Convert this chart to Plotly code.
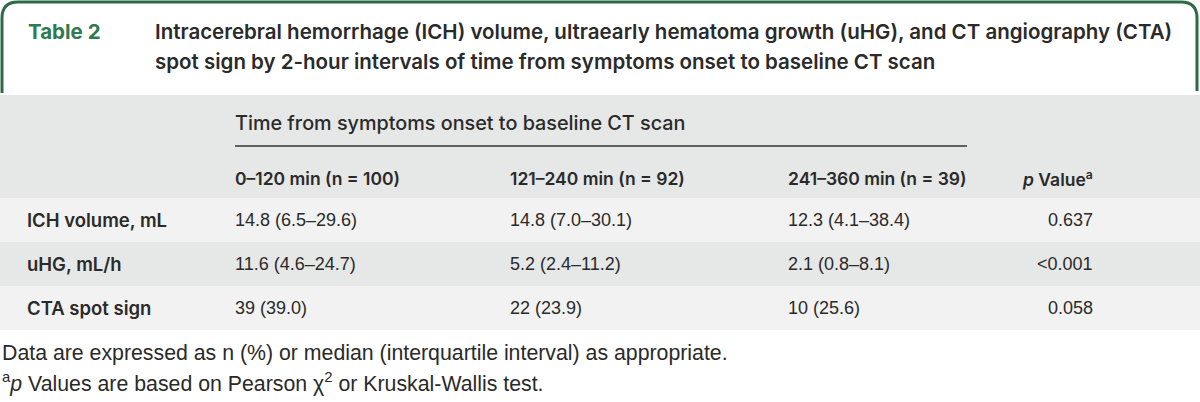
import plotly.graph_objects as go

# ---------------- data ----------------
table_label = "Table 2"
title_lines = [
    "Intracerebral hemorrhage (ICH) volume, ultraearly hematoma growth (uHG), and CT angiography (CTA)",
    "spot sign by 2-hour intervals of time from symptoms onset to baseline CT scan",
]
spanner = "Time from symptoms onset to baseline CT scan"
col_headers = ["0–120 min (n = 100)", "121–240 min (n = 92)", "241–360 min (n = 39)"]
p_header = "<i>p</i> Value<sup>a</sup>"
row_labels = ["ICH volume, mL", "uHG, mL/h", "CTA spot sign"]
g_0_120 = ["14.8 (6.5–29.6)", "11.6 (4.6–24.7)", "39 (39.0)"]
g_121_240 = ["14.8 (7.0–30.1)", "5.2 (2.4–11.2)", "22 (23.9)"]
g_241_360 = ["12.3 (4.1–38.4)", "2.1 (0.8–8.1)", "10 (25.6)"]
p_values = ["0.637", "&lt;0.001", "0.058"]
footnotes = [
    "Data are expressed as n (%) or median (interquartile interval) as appropriate.",
    "<sup>a</sup><i>p</i> Values are based on Pearson χ<sup>2</sup> or Kruskal-Wallis test.",
]

# ---------------- layout constants ----------------
W, H = 1200, 402
GREEN_BORDER = "#2d6a47"
GREEN_TEXT = "#2f7a50"
TEXT = "#2a2a2a"
GRAY_DARK = "#e6e7e7"
GRAY_LIGHT = "#f2f2f2"

BOLD_FONT = "Inter"
BODY_FONT = "Liberation Sans"

col_x = [27, 235, 510, 788]     # left edges of text columns
p_right = 1093
head_top, head_bot = 95, 198
row_h = 44
row_fill = [GRAY_LIGHT, GRAY_DARK, GRAY_LIGHT]

fig = go.Figure()
shapes = []
ann = []

# header box with rounded top corners
r = 16
path = (f"M 2,93 L 2,{2 + r} Q 2,2 {2 + r},2 L {1197 - r},2 Q 1197,2 1197,{2 + r} L 1197,91")
shapes.append(dict(type="path", path=path, xref="x", yref="y",
                   line=dict(color=GREEN_BORDER, width=3), fillcolor="rgba(0,0,0,0)"))

ann.append(dict(x=26, y=31, text=table_label, xanchor="left", yanchor="middle",
                font=dict(family=BOLD_FONT, size=20.5, color=GREEN_TEXT, weight=700)))
for i, line in enumerate(title_lines):
    ann.append(dict(x=153, y=31 + 30 * i, text=line, xanchor="left", yanchor="middle",
                    font=dict(family=BOLD_FONT, size=20.5, color=TEXT, weight=600)))

# header band
shapes.append(dict(type="rect", x0=0, x1=W, y0=head_top, y1=head_bot, xref="x", yref="y",
                   fillcolor=GRAY_DARK, line=dict(width=0), layer="below"))
# row bands
for i in range(len(row_labels)):
    y0 = head_bot + i * row_h
    shapes.append(dict(type="rect", x0=0, x1=W, y0=y0, y1=y0 + row_h, xref="x", yref="y",
                       fillcolor=row_fill[i], line=dict(width=0), layer="below"))

# spanner
ann.append(dict(x=col_x[1] - 2, y=123, text=spanner, xanchor="left", yanchor="middle",
                font=dict(family=BOLD_FONT, size=19.8, color=TEXT, weight=500)))
shapes.append(dict(type="line", x0=col_x[1], x1=967, y0=146, y1=146, xref="x", yref="y",
                   line=dict(color="#333333", width=1.5)))

# column headers
for j, h in enumerate(col_headers):
    ann.append(dict(x=col_x[j + 1] - 2, y=178, text=h, xanchor="left", yanchor="middle",
                    font=dict(family=BOLD_FONT, size=17.5, color=TEXT, weight=600)))
ann.append(dict(x=p_right + 2, y=178, text=p_header, xanchor="right", yanchor="middle",
                font=dict(family=BOLD_FONT, size=17.5, color=TEXT, weight=600)))

# body
cols = [g_0_120, g_121_240, g_241_360]
for i, lab in enumerate(row_labels):
    yc = head_bot + i * row_h + row_h / 2
    ann.append(dict(x=col_x[0] - 2, y=yc, text=lab, xanchor="left", yanchor="middle",
                    font=dict(family=BOLD_FONT, size=18.5, color=TEXT, weight=600)))
    for j, c in enumerate(cols):
        ann.append(dict(x=col_x[j + 1] - 2, y=yc, text=c[i], xanchor="left", yanchor="middle",
                        font=dict(family=BODY_FONT, size=18, color=TEXT)))
    ann.append(dict(x=p_right + 2, y=yc, text=p_values[i], xanchor="right", yanchor="middle",
                    font=dict(family=BODY_FONT, size=18, color=TEXT)))

# footnotes
for k, fn in enumerate(footnotes):
    ann.append(dict(x=0, y=353 + 29 * k, text=fn, xanchor="left", yanchor="middle",
                    font=dict(family=BODY_FONT, size=21.3, color=TEXT)))

for a in ann:
    a.update(xref="x", yref="y", showarrow=False, align="left")

fig.update_layout(
    width=W, height=H, margin=dict(l=0, r=0, t=0, b=0),
    paper_bgcolor="white", plot_bgcolor="white",
    shapes=shapes, annotations=ann, showlegend=False,
    xaxis=dict(range=[0, W], visible=False, fixedrange=True),
    yaxis=dict(range=[H, 0], visible=False, fixedrange=True),
)
fig.write_html("out.html",
               config={"displayModeBar": False},
               post_script="document.body.style.margin='0';document.body.style.overflow='hidden';")
